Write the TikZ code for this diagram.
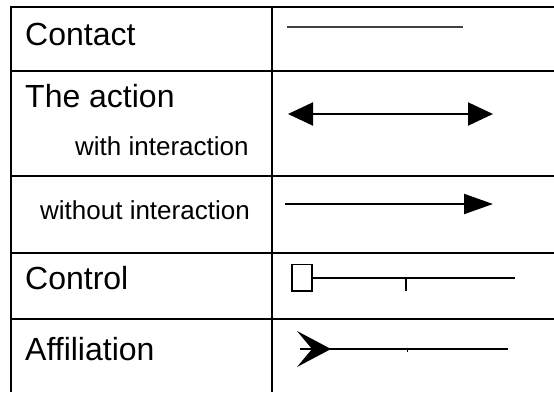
\documentclass[tikz,border=0pt]{standalone}
\usepackage{fontspec}
\setmainfont{Liberation Sans}
\usetikzlibrary{arrows.meta}
\tikzset{
  grid/.style = {line width=2.5pt},
  big/.style = {anchor=base west, inner sep=0pt, font=\fontsize{32}{38}\selectfont},
  small/.style = {anchor=base west, inner sep=0pt, font=\fontsize{26}{31}\selectfont},
  legend/.style = {line width=2pt}
}
\begin{document}
\begin{tikzpicture}[x=1pt,y=-1pt]
	\useasboundingbox (0,0) rectangle (554,392);
	% table
	\draw[grid] (11,7) -- (554,7);
	\draw[grid] (11,71) -- (554,71);
	\draw[grid] (11,176) -- (554,176);
	\draw[grid] (11,253) -- (554,253);
	\draw[grid] (11,319) -- (554,319);
	\draw[grid] (11,5.75) -- (11,392);
	\draw[grid] (272,5.75) -- (272,392);
	% labels
	\node (contact) at (25,45) [big] {Contact};
	\node (action) at (25,107) [big] {The action};
	\node (withint) at (75,155) [small] {with interaction};
	\node (without) at (40,219) [small] {without interaction};
	\node (control) at (25,289) [big] {Control};
	\node (affil) at (25,360) [big] {Affiliation};
	% legend lines
	\coordinate (c1) at (287,27);
	\coordinate (c2) at (463,27);
	\draw[legend, black!75] (c1) -- (c2);
	\coordinate (a1) at (288,114);
	\coordinate (a2) at (493,114);
	\draw[legend, {Triangle[length=25pt,width=23pt]}-{Triangle[length=25pt,width=23pt]}] (a1) -- (a2);
	\coordinate (w1) at (285,204);
	\coordinate (w2) at (493,204);
	\draw[legend, -{Triangle[length=29pt,width=20pt]}] (w1) -- (w2);
	\coordinate (k1) at (312,278);
	\coordinate (k2) at (515,278);
	\coordinate (kt) at (406,278);
	\draw[line width=1.2pt] (292,264.5) rectangle (312,291);
	\draw[legend] (k1) -- (k2);
	\draw[line width=1.2pt] (kt) -- ++(0,13);
	\coordinate (f1) at (300,349);
	\coordinate (f2) at (508,349);
	\coordinate (ft) at (407,349);
	\draw[line width=1.6pt] (f1) -- (f2);
	\draw[line width=1pt] (ft) -- ++(0,3);
	\fill (297,331) -- (331,349) -- (297,367) -- (312,349) -- cycle;
\end{tikzpicture}
\end{document}
